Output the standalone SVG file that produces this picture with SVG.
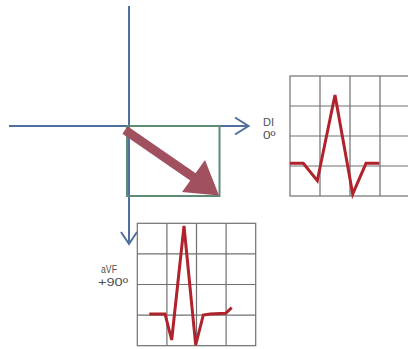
<svg xmlns="http://www.w3.org/2000/svg" width="408" height="349" viewBox="0 0 408 349">
<style>
.axis{stroke:#4f6f9c;stroke-width:2;fill:none}
.grid{stroke:#707070;stroke-width:1.2;fill:none}
.ecg{stroke:#b0222c;stroke-width:3;fill:none;stroke-linejoin:miter}
.lbl{font-family:"Liberation Sans",Arial,sans-serif;font-size:11.5px;fill:#505050}
</style>
<rect width="408" height="349" fill="#fff"/>
<g id="connectors">
<line class="axis" x1="129" y1="6" x2="129" y2="244"/>
<polyline class="axis" points="121,232 129,244 137,232" stroke-width="2.5"/>
<line class="axis" x1="9" y1="126" x2="248" y2="126"/>
<polyline class="axis" points="235,117.5 248.5,126 235,134.5" stroke-width="2.5"/>
</g>
<g id="vector-box">
<rect x="127" y="126" width="92.5" height="70" fill="none" stroke="#5e8a76" stroke-width="2"/>
</g>
<g id="vector">
<line x1="125" y1="130" x2="196" y2="179" stroke="#a0505f" stroke-width="9"/>
<polygon points="219,195.5 205,160 182,192" fill="#a0505f"/>
</g>
<g id="lead-DI">
<rect class="grid" x="290" y="76" width="120" height="120"/>
<path class="grid" d="M320,76V196M350,76V196M380,76V196M290,106H410M290,136H410M290,166H410"/>
<polyline class="ecg" points="290,163.3 303.3,163.3 317.3,180.7 335,95 352.7,194 366,163.3 379.3,163.3"/>
<text class="lbl" x="263" y="126" textLength="11" lengthAdjust="spacingAndGlyphs">DI</text>
<text class="lbl" x="263" y="139" textLength="12.5" lengthAdjust="spacingAndGlyphs">0º</text>
</g>
<g id="lead-aVF">
<rect class="grid" x="137.3" y="223.3" width="118.4" height="122.4"/>
<path class="grid" d="M166.9,223.3V345.7M196.5,223.3V345.7M226.1,223.3V345.7M137.3,253.9H255.7M137.3,284.5H255.7M137.3,315.1H255.7"/>
<polyline class="ecg" points="149.3,314 165,314 171.7,340 184,226 195.7,345 203.3,315 210,314 225.7,313.3 231.7,307.7"/>
<text class="lbl" x="101" y="273" textLength="16" lengthAdjust="spacingAndGlyphs">aVF</text>
<text class="lbl" x="98" y="286" textLength="30" lengthAdjust="spacingAndGlyphs">+90º</text>
</g>
</svg>
